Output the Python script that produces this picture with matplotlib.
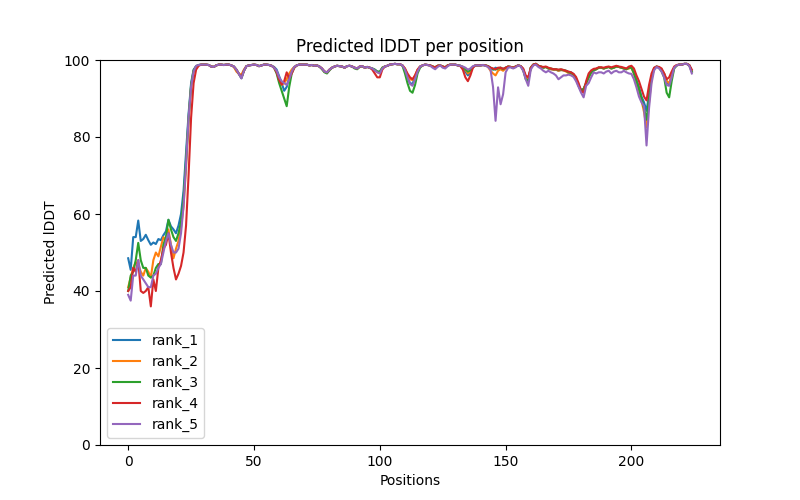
import numpy as np
import matplotlib
matplotlib.use('Agg')
import matplotlib.pyplot as plt

# pLDDT per residue for the five ranked models
rank_1 = [48.5, 45.5, 54.0, 54.0, 58.3, 53.0, 53.5, 54.6, 53.2, 52.0,
          52.6, 52.2, 53.5, 53.2, 54.5, 55.5, 58.5, 56.8, 56.0, 55.0,
          57.0, 60.0, 66.0, 76.0, 86.0, 94.0, 97.5, 98.4, 98.7, 98.8,
          98.8, 98.8, 98.7, 98.3, 98.2, 98.6, 98.8, 98.8, 98.7, 98.8,
          98.8, 98.6, 98.3, 97.5, 96.4, 95.3, 97.2, 98.4, 98.6, 98.7,
          98.8, 98.7, 98.4, 98.6, 98.8, 98.8, 98.7, 98.5, 98.2, 97.5,
          95.8, 94.0, 92.0, 93.0, 95.5, 97.3, 98.2, 98.6, 98.8, 98.8,
          98.8, 98.8, 98.6, 98.7, 98.5, 98.6, 98.3, 97.8, 97.0, 96.8,
          97.5, 98.0, 98.3, 98.5, 98.4, 98.3, 98.0, 98.4, 98.5, 98.3,
          98.0, 97.8, 98.3, 98.4, 98.0, 98.2, 98.0, 97.8, 97.5, 97.0,
          96.8, 98.0, 98.3, 98.5, 98.8, 98.9, 99.0, 98.9, 98.9, 98.6,
          97.5, 95.5, 94.0, 93.8, 95.5, 97.3, 98.3, 98.6, 98.8, 98.7,
          98.6, 98.3, 98.1, 98.5, 98.6, 98.3, 98.1, 98.6, 98.8, 98.8,
          98.8, 98.6, 98.5, 98.0, 97.0, 96.0, 96.8, 98.2, 98.6, 98.6,
          98.6, 98.7, 98.6, 98.4, 98.0, 97.5, 98.0, 97.8, 98.0, 97.6,
          98.0, 98.3, 98.2, 98.0, 98.3, 98.6, 98.4, 97.5, 95.5, 95.0,
          98.0, 98.8, 99.0, 98.5, 98.3, 98.0, 98.2, 97.8, 97.6, 97.5,
          97.5, 97.2, 97.4, 97.3, 97.2, 96.8, 96.8, 96.3, 95.2, 93.5,
          92.2, 92.5, 94.0, 95.5, 96.8, 97.3, 97.6, 98.0, 98.0, 97.8,
          98.0, 98.2, 97.8, 98.0, 98.3, 98.2, 98.0, 97.8, 97.6, 98.0,
          98.2, 97.0, 94.8, 93.0, 90.5, 89.0, 86.8, 91.0, 95.5, 97.8,
          98.3, 98.0, 97.5, 96.5, 94.5, 93.5, 96.0, 98.0, 98.6, 98.8,
          98.8, 99.0, 99.0, 98.6, 97.0]

rank_2 = [41.0, 43.5, 46.0, 47.5, 47.0, 45.0, 44.0, 46.0, 45.0, 43.5,
          48.0, 50.0, 49.0, 51.5, 54.0, 53.0, 56.0, 52.0, 48.5, 51.0,
          53.0, 56.5, 62.0, 72.0, 84.0, 93.0, 97.0, 98.3, 98.6, 98.8,
          98.8, 98.8, 98.7, 98.3, 98.2, 98.6, 98.8, 98.8, 98.7, 98.8,
          98.8, 98.6, 98.2, 97.0, 96.4, 96.2, 97.5, 98.4, 98.6, 98.7,
          98.8, 98.7, 98.4, 98.6, 98.8, 98.8, 98.7, 98.5, 98.0, 96.8,
          94.8, 93.6, 94.0, 95.0, 96.5, 97.5, 98.2, 98.6, 98.8, 98.8,
          98.8, 98.8, 98.6, 98.7, 98.5, 98.6, 98.3, 97.8, 97.0, 96.8,
          97.5, 98.0, 98.3, 98.5, 98.4, 98.3, 98.0, 98.4, 98.5, 98.3,
          98.0, 97.8, 98.3, 98.4, 98.0, 98.2, 98.0, 97.8, 97.3, 96.8,
          96.8, 98.0, 98.3, 98.5, 98.8, 98.9, 99.0, 98.9, 98.9, 98.6,
          97.8, 96.0, 95.0, 94.8, 96.0, 97.5, 98.3, 98.6, 98.8, 98.7,
          98.6, 98.3, 98.1, 98.5, 98.6, 98.3, 98.1, 98.6, 98.8, 98.8,
          98.8, 98.6, 98.5, 98.2, 97.5, 96.5, 97.0, 98.2, 98.6, 98.6,
          98.6, 98.7, 98.6, 98.2, 97.2, 96.5, 96.0, 97.2, 97.6, 97.2,
          97.8, 98.3, 98.2, 98.0, 98.3, 98.6, 98.4, 97.5, 95.5, 95.0,
          98.0, 98.8, 99.0, 98.5, 98.3, 98.0, 98.2, 97.8, 97.6, 97.5,
          97.5, 97.2, 97.4, 97.3, 97.0, 96.6, 96.5, 96.0, 95.0, 93.3,
          92.0, 92.5, 94.0, 95.5, 96.8, 97.3, 97.6, 98.0, 98.0, 97.8,
          98.0, 98.2, 97.8, 98.0, 98.3, 98.2, 98.0, 97.8, 97.6, 97.8,
          98.0, 96.5, 94.0, 92.0, 89.5, 86.5, 82.5, 89.0, 95.0, 97.8,
          98.3, 98.0, 97.5, 96.5, 94.5, 94.0, 96.0, 98.0, 98.6, 98.8,
          98.8, 99.0, 99.0, 98.6, 97.0]

rank_3 = [40.0, 44.0, 45.0, 48.0, 52.5, 48.0, 46.0, 46.0, 44.0, 43.5,
          44.0, 46.0, 47.0, 47.0, 52.0, 54.0, 58.5, 56.0, 54.0, 53.0,
          55.0, 58.0, 64.0, 74.0, 85.0, 93.5, 97.3, 98.4, 98.7, 98.8,
          98.8, 98.8, 98.7, 98.3, 98.2, 98.6, 98.8, 98.8, 98.7, 98.8,
          98.8, 98.6, 98.3, 97.5, 96.4, 95.3, 97.2, 98.4, 98.6, 98.7,
          98.8, 98.7, 98.4, 98.6, 98.8, 98.8, 98.7, 98.5, 98.0, 96.5,
          94.0, 92.0, 90.0, 88.0, 93.0, 96.5, 98.0, 98.6, 98.8, 98.8,
          98.8, 98.8, 98.6, 98.7, 98.5, 98.6, 98.3, 97.6, 96.8, 96.5,
          97.3, 98.0, 98.3, 98.5, 98.4, 98.3, 98.0, 98.4, 98.5, 98.3,
          97.8, 97.6, 98.2, 98.4, 98.0, 98.2, 98.0, 97.8, 97.5, 97.0,
          97.0, 98.0, 98.3, 98.5, 98.8, 98.9, 99.0, 98.9, 98.9, 98.5,
          96.5, 94.0, 92.0, 91.5, 93.5, 96.5, 98.0, 98.6, 98.8, 98.7,
          98.6, 98.3, 98.1, 98.5, 98.6, 98.3, 98.1, 98.6, 98.8, 98.8,
          98.8, 98.6, 98.5, 98.2, 97.6, 97.0, 97.3, 98.2, 98.6, 98.6,
          98.6, 98.7, 98.6, 98.4, 98.0, 97.6, 97.5, 97.8, 98.0, 97.6,
          98.0, 98.3, 98.2, 98.0, 98.3, 98.6, 98.4, 97.3, 95.0, 94.5,
          98.0, 98.8, 99.0, 98.5, 98.3, 98.0, 98.2, 97.8, 97.8, 97.6,
          97.6, 97.4, 97.5, 97.4, 97.2, 96.8, 96.6, 96.2, 95.0, 93.3,
          92.0, 92.5, 94.0, 95.5, 96.8, 97.3, 97.6, 98.0, 98.0, 97.8,
          98.0, 98.2, 97.8, 98.0, 98.3, 98.2, 98.0, 97.8, 97.6, 98.0,
          98.0, 96.5, 94.5, 92.5, 90.0, 87.5, 84.5, 90.0, 95.5, 97.8,
          98.3, 98.0, 97.0, 95.5, 91.5, 90.3, 94.5, 97.8, 98.6, 98.8,
          98.8, 99.0, 99.0, 98.6, 97.0]

rank_4 = [40.0, 41.0, 46.0, 45.0, 48.0, 40.0, 39.5, 40.0, 41.0, 36.0,
          43.0, 40.0, 46.0, 48.0, 51.0, 52.0, 55.0, 50.0, 46.0, 43.0,
          44.5, 46.5, 50.0, 57.0, 70.0, 85.0, 94.0, 97.5, 98.5, 98.8,
          98.8, 98.8, 98.7, 98.3, 98.2, 98.6, 98.8, 98.8, 98.7, 98.8,
          98.8, 98.6, 98.3, 97.5, 96.4, 95.5, 97.2, 98.4, 98.6, 98.7,
          98.8, 98.7, 98.4, 98.6, 98.8, 98.8, 98.7, 98.5, 98.0, 96.8,
          94.8, 93.6, 94.5, 96.8, 95.2, 96.5, 98.0, 98.6, 98.8, 98.8,
          98.8, 98.8, 98.6, 98.7, 98.5, 98.6, 98.3, 97.8, 97.0, 96.8,
          97.5, 98.0, 98.3, 98.5, 98.4, 98.3, 98.0, 98.4, 98.5, 98.3,
          98.0, 97.8, 98.3, 98.4, 98.0, 98.2, 98.0, 97.5, 96.5, 95.5,
          95.5, 97.5, 98.3, 98.5, 98.8, 98.9, 99.0, 98.9, 98.9, 98.6,
          97.8, 96.5, 95.5, 95.0, 96.0, 97.5, 98.3, 98.6, 98.8, 98.7,
          98.6, 98.3, 98.1, 98.5, 98.6, 98.3, 98.1, 98.6, 98.8, 98.8,
          98.8, 98.6, 98.4, 97.5, 95.5, 94.5, 96.0, 98.0, 98.6, 98.6,
          98.6, 98.7, 98.6, 98.4, 98.0, 97.8, 97.6, 98.0, 98.0, 97.7,
          98.0, 98.3, 98.2, 98.0, 98.3, 98.6, 98.4, 97.8, 96.0, 95.5,
          98.0, 98.8, 99.0, 98.5, 98.3, 98.2, 98.3, 98.0, 97.8, 97.6,
          97.6, 97.5, 97.6, 97.4, 97.2, 97.0, 96.8, 96.4, 95.6, 94.0,
          92.0, 91.5, 94.5, 96.5, 97.3, 97.7, 97.8, 98.1, 98.1, 98.0,
          98.2, 98.3, 98.1, 98.3, 98.5, 98.3, 98.2, 98.0, 97.8, 98.3,
          98.5, 97.8, 96.0, 94.5, 92.5, 90.5, 89.5, 93.5, 96.5, 98.0,
          98.3, 98.2, 97.8, 96.5, 95.0, 95.5, 97.0, 98.3, 98.7, 98.8,
          98.8, 99.0, 99.0, 98.7, 97.5]

rank_5 = [39.0, 37.5, 44.0, 44.0, 48.0, 44.0, 43.0, 42.0, 41.0, 41.0,
          44.0, 44.5, 46.0, 47.0, 50.0, 53.0, 55.0, 52.0, 50.0, 50.0,
          51.0, 55.0, 62.0, 73.0, 85.0, 93.0, 97.0, 98.5, 98.7, 98.8,
          98.8, 98.8, 98.7, 98.3, 98.2, 98.6, 98.8, 98.8, 98.7, 98.8,
          98.8, 98.6, 98.3, 97.5, 96.4, 95.2, 97.2, 98.4, 98.6, 98.7,
          98.8, 98.7, 98.4, 98.6, 98.8, 98.8, 98.7, 98.5, 98.0, 97.2,
          95.5, 94.5, 94.0, 93.5, 95.0, 97.0, 98.2, 98.6, 98.8, 98.8,
          98.8, 98.8, 98.6, 98.7, 98.5, 98.6, 98.3, 97.8, 97.0, 96.8,
          97.5, 98.0, 98.3, 98.5, 98.4, 98.3, 98.0, 98.4, 98.5, 98.3,
          98.0, 97.8, 98.3, 98.4, 98.0, 98.2, 98.0, 97.8, 97.3, 96.8,
          96.5, 97.8, 98.3, 98.5, 98.8, 98.9, 99.0, 98.9, 98.9, 98.6,
          97.5, 95.5, 93.8, 93.3, 95.0, 97.0, 98.3, 98.6, 98.8, 98.7,
          98.5, 98.0, 97.6, 98.2, 98.6, 98.0, 97.8, 98.4, 98.8, 98.8,
          98.8, 98.6, 98.5, 98.3, 98.0, 97.5, 97.8, 98.4, 98.6, 98.6,
          98.6, 98.7, 98.5, 98.2, 97.5, 93.0, 84.2, 92.9, 88.5, 91.1,
          96.8, 98.0, 98.1, 97.8, 98.1, 98.6, 98.3, 97.2, 95.0, 93.3,
          97.5, 98.6, 98.8, 98.2, 97.8, 97.2, 96.8, 97.2, 96.8, 96.5,
          96.0, 95.0, 95.5, 96.0, 96.0, 96.2, 96.0, 95.6, 94.5, 93.0,
          91.5, 90.3, 93.3, 94.0, 95.5, 96.8, 96.5, 96.8, 96.8, 96.5,
          97.0, 97.2, 96.5, 97.0, 97.2, 96.8, 96.8, 97.2, 96.8, 96.5,
          96.4, 95.0, 92.9, 90.5, 89.0, 88.0, 77.8, 87.5, 94.0, 97.3,
          98.2, 97.8, 97.0, 95.5, 93.5, 93.3, 95.5, 98.0, 98.6, 98.8,
          98.8, 99.0, 99.0, 98.5, 96.5]

ranks = [rank_1, rank_2, rank_3, rank_4, rank_5]
labels = ['rank_1', 'rank_2', 'rank_3', 'rank_4', 'rank_5']

plt.figure(figsize=(8, 5), dpi=100)
for r, lab in zip(ranks, labels):
    assert len(r) == 225, (lab, len(r))
    plt.plot(np.arange(len(r)), r, label=lab)

plt.title('Predicted lDDT per position')
plt.xlabel('Positions')
plt.ylabel('Predicted lDDT')
plt.ylim(0, 100)
plt.legend(loc='lower left')

plt.savefig('out.png')
